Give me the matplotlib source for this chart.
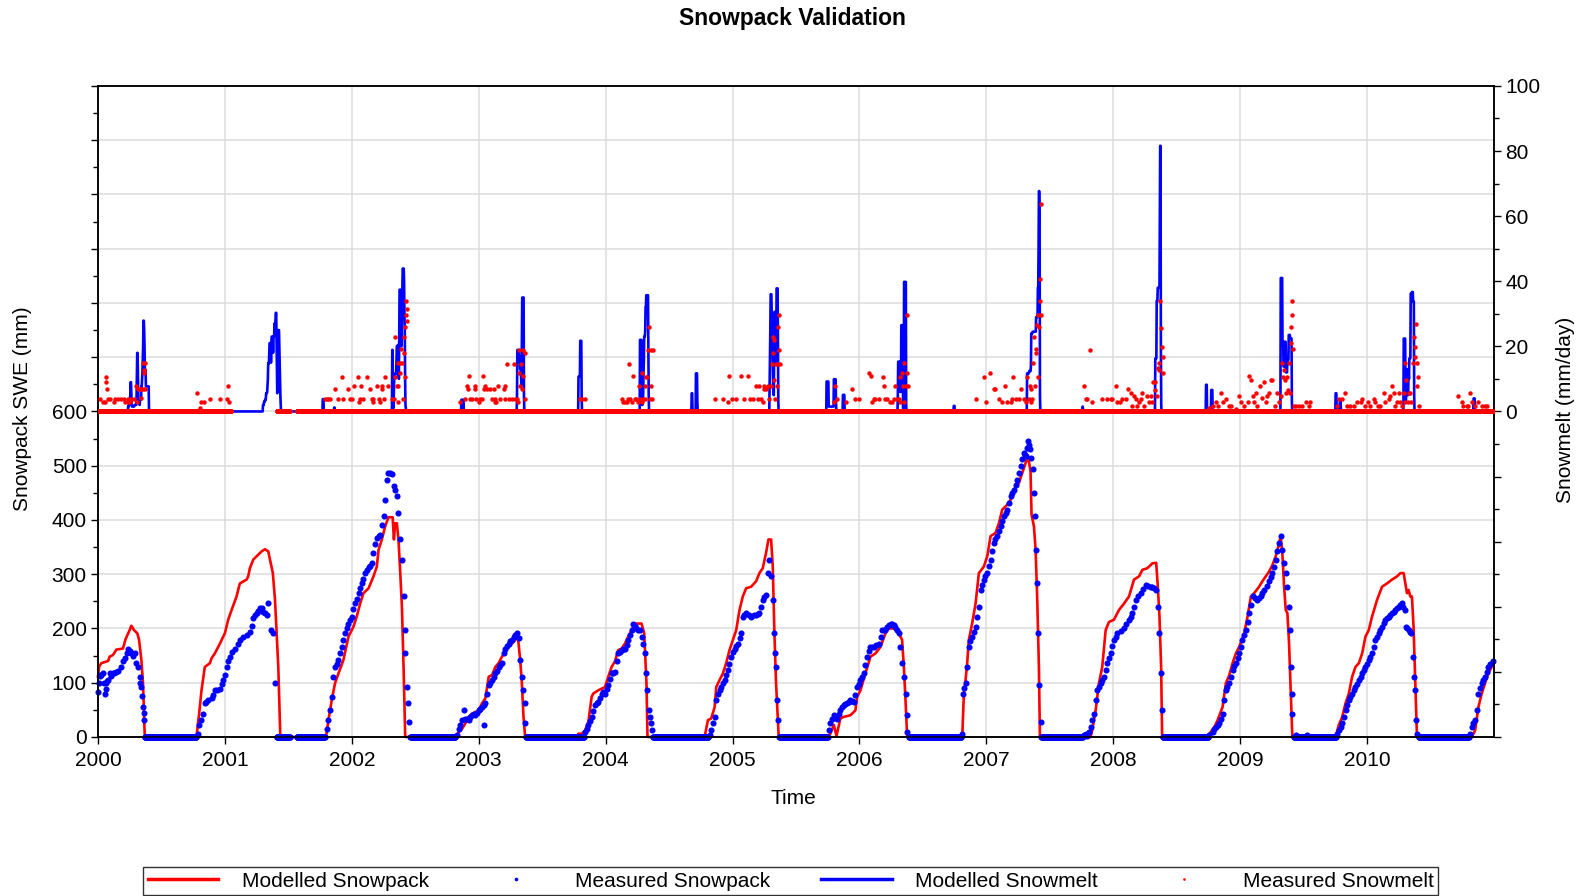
"""
Snowpack validation chart: modelled vs measured SWE (left axis)
and modelled vs measured daily snowmelt (right axis).
"""
import numpy as np
import matplotlib
matplotlib.use("Agg")
import matplotlib.pyplot as plt
from matplotlib.ticker import MultipleLocator, FuncFormatter

plt.rcParams["font.family"] = ["Liberation Sans", "DejaVu Sans"]

# ---------------------------------------------------------------------------
# Data (decimal years)
# ---------------------------------------------------------------------------
years = list(range(2000, 2011))

# Modelled snowpack SWE (mm)
swe_model = [
    (2000.000, 111), (2000.010, 130), (2000.026, 136), (2000.080, 140), (2000.092, 148),
    (2000.118, 151), (2000.145, 161), (2000.197, 163), (2000.216, 179), (2000.232, 188),
    (2000.250, 197), (2000.263, 205), (2000.284, 197), (2000.310, 191), (2000.324, 179),
    (2000.342, 142), (2000.355, 99), (2000.368, 6), (2000.374, 0),
    (2000.776, 0), (2000.800, 49), (2000.816, 86), (2000.842, 129), (2000.882, 136),
    (2000.895, 145), (2000.921, 154), (2000.961, 172), (2000.987, 185), (2001.000, 191),
    (2001.026, 216), (2001.053, 234), (2001.092, 259), (2001.118, 283), (2001.171, 290),
    (2001.184, 296), (2001.197, 311), (2001.224, 327), (2001.250, 333), (2001.289, 342),
    (2001.316, 346), (2001.342, 342), (2001.378, 302), (2001.395, 253), (2001.421, 129),
    (2001.437, 0),
    (2001.797, 0), (2001.816, 31), (2001.842, 68), (2001.868, 99), (2001.895, 117),
    (2001.934, 142), (2001.974, 185), (2002.013, 203), (2002.039, 222), (2002.066, 246),
    (2002.092, 265), (2002.132, 274), (2002.171, 296), (2002.197, 314), (2002.211, 345),
    (2002.237, 364), (2002.263, 388), (2002.289, 405), (2002.322, 405), (2002.332, 364),
    (2002.342, 394), (2002.355, 394), (2002.368, 364), (2002.382, 302), (2002.395, 240),
    (2002.408, 129), (2002.421, 0),
    (2002.817, 0), (2002.843, 9), (2002.869, 15), (2002.895, 25), (2002.921, 37),
    (2002.948, 43), (2003.000, 49), (2003.026, 62), (2003.052, 71), (2003.079, 111),
    (2003.105, 114), (2003.131, 129), (2003.157, 136), (2003.183, 148), (2003.209, 157),
    (2003.236, 169), (2003.262, 172), (2003.288, 179), (2003.309, 184), (2003.327, 142),
    (2003.340, 99), (2003.353, 37), (2003.366, 0),
    (2003.772, 0), (2003.785, 6), (2003.812, 6), (2003.838, 12), (2003.864, 28),
    (2003.890, 74), (2003.903, 80), (2003.942, 86), (2003.995, 92), (2004.021, 111),
    (2004.047, 129), (2004.073, 139), (2004.099, 160), (2004.126, 163), (2004.152, 172),
    (2004.178, 185), (2004.204, 197), (2004.230, 209), (2004.283, 209), (2004.304, 191),
    (2004.322, 99), (2004.330, 0),
    (2004.690, 0), (2004.700, 3), (2004.730, 3), (2004.740, 0),
    (2004.780, 0), (2004.806, 31), (2004.832, 34), (2004.859, 55), (2004.872, 92),
    (2004.898, 105), (2004.924, 117), (2004.950, 136), (2004.976, 160), (2005.003, 179),
    (2005.029, 197), (2005.055, 234), (2005.081, 259), (2005.107, 274), (2005.147, 277),
    (2005.186, 287), (2005.212, 302), (2005.238, 311), (2005.264, 339), (2005.283, 364),
    (2005.304, 364), (2005.317, 314), (2005.330, 191), (2005.343, 99), (2005.364, 0),
    (2005.745, 0), (2005.771, 6), (2005.798, 22), (2005.819, 2), (2005.850, 34),
    (2005.876, 37), (2005.929, 40), (2005.968, 49), (2005.982, 74), (2006.008, 86),
    (2006.047, 117), (2006.087, 148), (2006.126, 154), (2006.166, 166), (2006.205, 191),
    (2006.231, 200), (2006.271, 200), (2006.310, 191), (2006.336, 179), (2006.350, 129),
    (2006.363, 68), (2006.376, 0),
    (2006.810, 0), (2006.823, 80), (2006.836, 105), (2006.849, 136), (2006.862, 179),
    (2006.888, 209), (2006.915, 246), (2006.941, 302), (2006.980, 314), (2007.007, 333),
    (2007.033, 370), (2007.072, 376), (2007.099, 394), (2007.125, 419), (2007.164, 428),
    (2007.191, 437), (2007.217, 456), (2007.256, 468), (2007.296, 496), (2007.322, 514),
    (2007.335, 508), (2007.348, 490), (2007.356, 410), (2007.375, 388), (2007.388, 345),
    (2007.401, 253), (2007.414, 129), (2007.422, 0),
    (2007.821, 0), (2007.834, 12), (2007.861, 49), (2007.887, 99), (2007.913, 129),
    (2007.940, 197), (2007.966, 212), (2008.005, 216), (2008.045, 234), (2008.085, 246),
    (2008.124, 259), (2008.163, 290), (2008.203, 296), (2008.229, 308), (2008.268, 311),
    (2008.308, 320), (2008.338, 321), (2008.351, 277), (2008.364, 222), (2008.377, 129),
    (2008.385, 0),
    (2008.730, 0), (2008.757, 6), (2008.796, 18), (2008.822, 31), (2008.861, 55),
    (2008.887, 99), (2008.914, 114), (2008.940, 136), (2008.966, 154), (2008.992, 166),
    (2009.031, 191), (2009.058, 222), (2009.084, 259), (2009.110, 265), (2009.149, 277),
    (2009.175, 287), (2009.202, 296), (2009.228, 305), (2009.254, 317), (2009.280, 333),
    (2009.301, 351), (2009.319, 370), (2009.332, 339), (2009.346, 277), (2009.359, 234),
    (2009.372, 228), (2009.385, 172), (2009.398, 86), (2009.411, 0),
    (2009.751, 0), (2009.777, 22), (2009.804, 37), (2009.830, 62), (2009.856, 80),
    (2009.882, 111), (2009.908, 129), (2009.935, 136), (2009.961, 154), (2009.987, 185),
    (2010.013, 197), (2010.039, 222), (2010.079, 253), (2010.118, 277), (2010.157, 283),
    (2010.196, 290), (2010.236, 296), (2010.262, 302), (2010.288, 302), (2010.301, 283),
    (2010.314, 265), (2010.327, 271), (2010.340, 259), (2010.353, 259), (2010.366, 203),
    (2010.380, 99), (2010.393, 0),
    (2010.825, 0), (2010.851, 12), (2010.877, 55), (2010.903, 80), (2010.929, 99),
    (2010.955, 117), (2010.995, 135),
]

# Measured snowpack SWE (mm), snow season readings
swe_measured = [
    (2000.000, 83), (2000.005, 100), (2000.013, 114), (2000.020, 112), (2000.026, 114),
    (2000.039, 117), (2000.045, 100), (2000.053, 80), (2000.060, 88), (2000.066, 99),
    (2000.072, 104), (2000.079, 105), (2000.092, 117), (2000.100, 112), (2000.118, 117),
    (2000.130, 118), (2000.145, 120), (2000.160, 121), (2000.184, 129), (2000.200, 140),
    (2000.211, 145), (2000.225, 155), (2000.237, 163), (2000.250, 158), (2000.263, 154),
    (2000.276, 150), (2000.289, 154), (2000.303, 136), (2000.316, 129), (2000.329, 111),
    (2000.335, 100), (2000.342, 92), (2000.350, 75), (2000.355, 55), (2000.360, 45),
    (2000.363, 31),
    (2000.789, 6), (2000.800, 22), (2000.813, 31), (2000.826, 43), (2000.842, 62),
    (2000.855, 65), (2000.868, 68), (2000.895, 71), (2000.908, 78), (2000.921, 86),
    (2000.940, 87), (2000.961, 89), (2000.975, 97), (2000.987, 105), (2001.000, 115),
    (2001.013, 129), (2001.026, 140), (2001.039, 148), (2001.060, 157), (2001.079, 163),
    (2001.100, 171), (2001.118, 179), (2001.145, 184), (2001.171, 188), (2001.197, 194),
    (2001.210, 205), (2001.224, 219), (2001.237, 224), (2001.250, 228), (2001.263, 233),
    (2001.276, 237), (2001.290, 238), (2001.303, 231), (2001.316, 228), (2001.329, 225),
    (2001.342, 246), (2001.361, 198), (2001.382, 191), (2001.395, 100),
    (2001.803, 15), (2001.816, 31), (2001.829, 49), (2001.842, 74), (2001.855, 111),
    (2001.868, 129), (2001.882, 135), (2001.895, 142), (2001.908, 155), (2001.921, 166),
    (2001.934, 178), (2001.947, 191), (2001.960, 200), (2001.974, 209), (2001.987, 215),
    (2002.000, 222), (2002.013, 235), (2002.026, 246), (2002.040, 255), (2002.053, 265),
    (2002.066, 274), (2002.079, 283), (2002.092, 292), (2002.105, 302), (2002.118, 308),
    (2002.132, 314), (2002.145, 316), (2002.158, 320), (2002.171, 340), (2002.184, 355),
    (2002.197, 367), (2002.211, 370), (2002.224, 373), (2002.237, 390), (2002.250, 407),
    (2002.263, 437), (2002.276, 474), (2002.289, 487), (2002.303, 486), (2002.316, 484),
    (2002.329, 462), (2002.342, 456), (2002.355, 444), (2002.368, 413), (2002.382, 364),
    (2002.395, 327), (2002.408, 259), (2002.416, 197), (2002.421, 154), (2002.434, 92),
    (2002.440, 62), (2002.447, 28),
    (2002.830, 3), (2002.843, 15), (2002.856, 22), (2002.869, 31), (2002.882, 49),
    (2002.895, 34), (2002.908, 33), (2002.921, 31), (2002.934, 36), (2002.948, 40),
    (2002.961, 42), (2002.974, 40), (2002.987, 45), (2003.000, 49), (2003.013, 52),
    (2003.026, 55), (2003.039, 22), (2003.045, 58), (2003.052, 62), (2003.065, 80),
    (2003.079, 95), (2003.092, 100), (2003.105, 105), (2003.118, 110), (2003.131, 117),
    (2003.144, 122), (2003.157, 129), (2003.170, 132), (2003.183, 136), (2003.196, 154),
    (2003.209, 163), (2003.222, 168), (2003.236, 172), (2003.249, 176), (2003.262, 179),
    (2003.275, 184), (2003.288, 188), (2003.301, 191), (2003.319, 182), (2003.327, 142),
    (2003.340, 111), (2003.353, 86), (2003.361, 62), (2003.366, 25),
    (2003.838, 9), (2003.851, 15), (2003.864, 22), (2003.877, 30), (2003.890, 37),
    (2003.903, 48), (2003.916, 59), (2003.929, 62), (2003.942, 65), (2003.955, 72),
    (2003.969, 80), (2003.982, 82), (2003.995, 80), (2004.008, 88), (2004.021, 95),
    (2004.034, 106), (2004.047, 117), (2004.060, 118), (2004.073, 120), (2004.086, 140),
    (2004.099, 154), (2004.112, 157), (2004.126, 160), (2004.139, 162), (2004.152, 163),
    (2004.165, 170), (2004.178, 179), (2004.191, 188), (2004.204, 197), (2004.217, 209),
    (2004.230, 204), (2004.243, 200), (2004.257, 198), (2004.270, 197), (2004.283, 185),
    (2004.296, 172), (2004.309, 154), (2004.322, 117), (2004.330, 86), (2004.340, 50),
    (2004.350, 37), (2004.361, 25), (2004.368, 12),
    (2004.819, 3), (2004.832, 12), (2004.845, 25), (2004.859, 37), (2004.872, 68),
    (2004.885, 80), (2004.898, 86), (2004.911, 92), (2004.924, 99), (2004.937, 105),
    (2004.950, 115), (2004.963, 123), (2004.976, 135), (2004.990, 148), (2005.003, 156),
    (2005.016, 163), (2005.029, 168), (2005.042, 172), (2005.055, 182), (2005.068, 191),
    (2005.081, 222), (2005.094, 225), (2005.107, 228), (2005.127, 224), (2005.147, 222),
    (2005.166, 224), (2005.186, 225), (2005.199, 227), (2005.212, 228), (2005.225, 240),
    (2005.238, 253), (2005.251, 258), (2005.264, 262), (2005.277, 302), (2005.291, 327),
    (2005.304, 296), (2005.317, 253), (2005.325, 191), (2005.335, 154), (2005.343, 129),
    (2005.351, 68), (2005.361, 31),
    (2005.758, 12), (2005.771, 25), (2005.785, 33), (2005.798, 40), (2005.811, 36),
    (2005.824, 34), (2005.837, 42), (2005.850, 49), (2005.863, 55), (2005.876, 59),
    (2005.889, 60), (2005.903, 62), (2005.916, 65), (2005.929, 68), (2005.942, 66),
    (2005.955, 65), (2005.968, 78), (2005.982, 92), (2005.995, 98), (2006.008, 105),
    (2006.021, 111), (2006.034, 117), (2006.047, 132), (2006.060, 148), (2006.073, 158),
    (2006.087, 166), (2006.100, 166), (2006.113, 166), (2006.133, 169), (2006.152, 172),
    (2006.166, 185), (2006.179, 197), (2006.192, 197), (2006.205, 197), (2006.218, 202),
    (2006.231, 206), (2006.245, 208), (2006.258, 209), (2006.271, 206), (2006.284, 203),
    (2006.297, 197), (2006.310, 191), (2006.323, 166), (2006.336, 136), (2006.350, 111),
    (2006.363, 80), (2006.371, 40), (2006.376, 9),
    (2006.810, 6), (2006.818, 80), (2006.827, 90), (2006.836, 99), (2006.849, 129),
    (2006.862, 166), (2006.875, 176), (2006.888, 185), (2006.901, 194), (2006.915, 203),
    (2006.928, 222), (2006.941, 240), (2006.954, 271), (2006.967, 280), (2006.980, 290),
    (2006.993, 296), (2007.007, 302), (2007.020, 315), (2007.033, 327), (2007.046, 342),
    (2007.059, 357), (2007.072, 364), (2007.085, 370), (2007.099, 379), (2007.112, 388),
    (2007.125, 398), (2007.138, 407), (2007.151, 413), (2007.164, 419), (2007.177, 432),
    (2007.191, 444), (2007.204, 450), (2007.217, 456), (2007.230, 465), (2007.243, 474),
    (2007.256, 486), (2007.270, 499), (2007.283, 512), (2007.296, 524), (2007.305, 520),
    (2007.314, 518), (2007.322, 532), (2007.330, 545), (2007.337, 538), (2007.343, 530),
    (2007.353, 514), (2007.364, 493), (2007.375, 450), (2007.382, 407), (2007.393, 345),
    (2007.401, 283), (2007.409, 191), (2007.417, 95), (2007.427, 28),
    (2007.769, 4), (2007.782, 6), (2007.795, 2), (2007.808, 10), (2007.821, 18),
    (2007.834, 31), (2007.848, 43), (2007.861, 68), (2007.874, 86), (2007.887, 93),
    (2007.900, 99), (2007.913, 105), (2007.927, 111), (2007.940, 124), (2007.953, 136),
    (2007.966, 145), (2007.979, 154), (2007.992, 167), (2008.005, 179), (2008.018, 185),
    (2008.032, 191), (2008.058, 196), (2008.085, 200), (2008.104, 208), (2008.124, 216),
    (2008.137, 222), (2008.150, 228), (2008.163, 240), (2008.176, 253), (2008.196, 259),
    (2008.216, 265), (2008.236, 273), (2008.255, 280), (2008.275, 279), (2008.294, 277),
    (2008.307, 276), (2008.320, 274), (2008.338, 270), (2008.351, 240), (2008.364, 191),
    (2008.377, 117), (2008.382, 49),
    (2008.757, 3), (2008.783, 9), (2008.796, 14), (2008.809, 18), (2008.822, 22),
    (2008.835, 25), (2008.848, 34), (2008.861, 43), (2008.874, 68), (2008.887, 86),
    (2008.900, 93), (2008.914, 99), (2008.927, 111), (2008.940, 123), (2008.953, 130),
    (2008.966, 136), (2008.979, 145), (2008.992, 154), (2009.005, 166), (2009.018, 179),
    (2009.031, 188), (2009.045, 197), (2009.058, 212), (2009.071, 228), (2009.084, 244),
    (2009.097, 259), (2009.117, 256), (2009.136, 253), (2009.149, 256), (2009.162, 259),
    (2009.175, 265), (2009.188, 271), (2009.208, 279), (2009.228, 287), (2009.241, 294),
    (2009.254, 302), (2009.267, 314), (2009.280, 327), (2009.293, 342), (2009.306, 357),
    (2009.319, 370), (2009.332, 345), (2009.346, 320), (2009.359, 302), (2009.372, 277),
    (2009.385, 240), (2009.393, 197), (2009.401, 129), (2009.406, 80), (2009.411, 43),
    (2009.437, 3), (2009.529, 3),
    (2009.764, 5), (2009.777, 12), (2009.791, 18), (2009.804, 25), (2009.817, 37),
    (2009.830, 49), (2009.843, 58), (2009.856, 68), (2009.869, 74), (2009.882, 80),
    (2009.895, 86), (2009.908, 92), (2009.921, 98), (2009.935, 105), (2009.948, 111),
    (2009.961, 117), (2009.974, 123), (2009.987, 129), (2010.000, 135), (2010.013, 142),
    (2010.026, 148), (2010.039, 154), (2010.052, 166), (2010.065, 179), (2010.079, 185),
    (2010.092, 191), (2010.105, 197), (2010.118, 203), (2010.131, 210), (2010.144, 216),
    (2010.157, 219), (2010.170, 222), (2010.183, 225), (2010.196, 228), (2010.210, 231),
    (2010.223, 234), (2010.236, 237), (2010.249, 240), (2010.262, 243), (2010.275, 246),
    (2010.285, 240), (2010.296, 234), (2010.306, 203), (2010.317, 200), (2010.327, 197),
    (2010.338, 194), (2010.348, 191), (2010.359, 148), (2010.367, 111), (2010.374, 86),
    (2010.385, 31), (2010.393, 6),
    (2010.812, 5), (2010.825, 18), (2010.838, 25), (2010.851, 31), (2010.864, 49),
    (2010.877, 80), (2010.890, 90), (2010.903, 99), (2010.916, 105), (2010.929, 111),
    (2010.942, 120), (2010.955, 129), (2010.970, 134), (2010.990, 140),
]

# Periods where the measured snowpack reads zero
swe_measured_zero = [
    (2000.368, 2000.776), (2001.408, 2001.513), (2001.566, 2001.789),
    (2002.460, 2002.817), (2003.372, 2003.830), (2004.374, 2004.812),
    (2005.369, 2005.752), (2006.389, 2006.804), (2007.432, 2007.760),
    (2008.390, 2008.750), (2009.424, 2009.758), (2010.406, 2010.805),
]

# Modelled snowmelt (mm/day): runs of consecutive daily values, zero elsewhere
melt_model_runs = [
    (2000.237, [1.5, 1.5, 2, 2, 3, 3, 5, 9, 9, 6, 2, 1.5, 1.5, 1.5, 1.5, 1.5, 1.5, 1.5,
                2, 2, 2, 2, 2, 2, 3.6, 10, 18, 18, 12, 3.6, 3.6, 3.6, 3.6, 2, 3.6, 3.6,
                3.6, 3.6, 7.7, 7.7, 10, 12, 15.8, 20, 27.9, 27.9, 25, 20, 12.8, 12.8,
                12.8, 7.7, 7.7, 7.7, 7.7, 7.7, 7.7, 7.7, 7.7, 7.7]),
    (2001.300, [2, 2, 2, 3, 3, 3, 3.6, 3.6, 3.6, 5.6, 5.6, 5.6, 6, 8, 10, 14.8, 14.8,
                14.8, 18, 21, 21, 21, 21, 15, 21, 23, 23, 23, 23, 18, 23, 23, 23, 27, 25,
                27, 28, 30.3, 30.3, 22, 12, 5.6, 8, 15, 25, 25, 25, 20, 14, 10, 5, 2]),
    (2001.771, [3.8, 3.8, 3.8]),
    (2001.863, [1.2, 1.2]),
    (2002.318, [18.9, 18.9, 5, 1, 3, 8, 11, 11, 11, 11.7, 11.7, 11.7, 15, 20, 20, 20,
                20.4, 20.4, 14, 10, 25, 37.4, 37.4, 37.4, 37.4, 30, 20, 25, 30, 38, 43.9,
                43.9, 43.9, 43.9, 40, 30, 25, 10, 2, 1]),
    (2002.864, [3.6, 3.6, 3.6, 3.6, 3.6, 3.6, 3.6]),
    (2003.301, [5, 18.9, 18.9, 18.9, 18.9, 18.9, 16.8, 16.8, 16.8, 13, 13, 13, 10, 8,
                20, 35, 35, 35, 35, 35, 5]),
    (2003.786, [10.7, 10.7, 10.7, 10.7, 10.7, 21.7, 21.7, 21.7, 21.7, 5]),
    (2004.270, [22, 22, 22, 22, 22, 3, 2, 2, 3, 5, 12, 15, 23, 23, 23, 25, 32, 32,
                35.7, 35.7, 35.7, 35.7, 35.7, 35.7, 20, 5]),
    (2004.676, [1, 5.6, 5.6, 1]),
    (2004.712, [11.7, 11.7, 11.7, 11.7, 3]),
    (2005.291, [8, 15.8, 25, 36, 36, 36, 30, 30, 30, 15, 8, 6, 5, 20, 30.6, 30.6, 30.6,
                30.6, 25, 15, 37.8, 37.8, 37.8, 37.8, 20, 3]),
    (2005.740, [9.2, 9.2, 9.2, 9.2, 9.2, 9.2, 1.5, 1.5, 1.5, 1.5, 1.5, 1.5, 1.5, 1.5,
                1.5, 1.5, 1.5, 1.5, 1.5, 1.5, 1.5, 9.9, 9.9, 9.9, 9.9, 9.9, 9.9, 3]),
    (2005.871, [5.1, 5.1, 5.1, 5.1, 5.1]),
    (2006.302, [5, 15.3, 15.3, 15.3, 15.3, 15.3, 15.3, 6, 6, 6, 26.5, 26.5, 26.5, 26.5,
                26.5, 1, 1, 1, 39.8, 39.8, 39.8, 39.8, 39.8, 39.8, 2]),
    (2006.744, [1.7, 1.7, 1.7]),
    (2007.322, [11.7, 11.7, 11.7, 11.7, 11.7, 11.7, 12.4, 12.4, 12.4, 12.4, 12.4, 14,
                24, 24, 24, 24, 24.5, 24.5, 24.5, 24.5, 24.5, 24.5, 24.5, 24.5, 24.5,
                24.5, 29, 29, 29, 29, 29, 38, 38, 50, 67.7, 67.7, 60, 5]),
    (2007.756, [0.7, 1.5, 0.7]),
    (2008.332, [16.3, 16.3, 16.3, 16.3, 34, 34, 34, 38, 38, 38, 38, 38, 38, 60, 81.6,
                81.6, 20, 2]),
    (2008.730, [8.2, 8.2, 8.2]),
    (2008.772, [6.6, 6.6, 6.6, 6.6]),
    (2009.319, [41, 41, 41, 41, 41, 21.4, 21.4, 21.4, 13.8, 13.8, 13.8, 21.4, 21.4,
                21.4, 21.4, 12, 12, 12, 12, 15.8, 15.8, 15.8, 15.8, 23.5, 23.5, 23.5,
                23.5, 22.4, 22.4, 22.4, 22.4, 22.4, 3]),
    (2009.752, [5.6, 5.6, 5.6, 1, 1, 1, 1, 1, 1, 1, 1, 1, 3, 3, 3, 1]),
    (2010.288, [22.4, 22.4, 22.4, 22.4, 22.4, 5, 3, 5, 10, 12, 13, 10, 5, 8, 12, 10,
                16.3, 16.3, 16.3, 16.3, 36.2, 36.2, 36.2, 36.2, 36.7, 36.7, 36.7, 33.7,
                33.7, 33.7, 5]),
    (2010.838, [4, 4, 4, 4]),
]

# Measured snowmelt (mm/day), non-zero readings
melt_measured = [
    (2000.013, 3.9), (2000.039, 2.8), (2000.053, 2.8), (2000.061, 10.7), (2000.061, 8.9),
    (2000.071, 6.8), (2000.079, 3.9), (2000.092, 3.9), (2000.126, 2.8), (2000.132, 3.9),
    (2000.158, 3.9), (2000.184, 3.9), (2000.205, 3.9), (2000.216, 2.8), (2000.237, 2.8),
    (2000.237, 3.9), (2000.250, 2.8), (2000.263, 3.9), (2000.284, 3.9), (2000.303, 7.9),
    (2000.311, 2.8), (2000.316, 6.8), (2000.329, 6.8), (2000.342, 4.0), (2000.342, 6.8),
    (2000.355, 6.8), (2000.355, 14.8), (2000.363, 11.7), (2000.363, 12.8), (2000.368, 14.8),
    (2000.368, 6.8),
    (2000.784, 5.8), (2000.803, 1.0), (2000.811, 2.8), (2000.837, 2.8), (2000.882, 3.9),
    (2000.961, 3.9), (2001.013, 3.9), (2001.026, 7.9), (2001.034, 2.8),
    (2001.789, 3.9), (2001.803, 3.9), (2001.816, 3.9), (2001.829, 3.9), (2001.868, 6.8),
    (2001.895, 3.9), (2001.921, 10.7), (2001.934, 3.9), (2001.974, 6.8), (2001.987, 3.9),
    (2002.000, 3.9), (2002.021, 7.9), (2002.047, 10.7), (2002.053, 2.8), (2002.066, 3.9),
    (2002.074, 7.9), (2002.092, 3.9), (2002.118, 10.7), (2002.145, 6.8), (2002.158, 3.9),
    (2002.166, 2.8), (2002.171, 3.9), (2002.197, 7.9), (2002.211, 3.9), (2002.224, 2.8),
    (2002.237, 6.8), (2002.242, 7.9), (2002.250, 3.9), (2002.258, 10.7), (2002.289, 7.9),
    (2002.316, 3.9), (2002.329, 3.9), (2002.337, 22.8), (2002.337, 10.7), (2002.355, 7.9),
    (2002.363, 2.8), (2002.368, 14.8), (2002.368, 7.9), (2002.382, 14.8), (2002.382, 11.7),
    (2002.389, 19.1), (2002.395, 14.8), (2002.400, 3.9), (2002.408, 22.8), (2002.408, 17.9),
    (2002.416, 25.8), (2002.421, 10.7), (2002.426, 29.6), (2002.429, 34.0), (2002.434, 31.6),
    (2002.439, 27.9),
    (2002.856, 2.8), (2002.895, 3.9), (2002.908, 7.7), (2002.916, 6.8), (2002.921, 10.9),
    (2002.935, 3.9), (2002.948, 3.9), (2002.969, 6.8), (2002.974, 7.9), (2002.979, 3.9),
    (2003.000, 2.8), (2003.013, 3.9), (2003.026, 3.9), (2003.034, 10.9), (2003.039, 6.8),
    (2003.047, 7.9), (2003.065, 6.8), (2003.092, 6.8), (2003.105, 3.9), (2003.118, 6.8),
    (2003.126, 2.8), (2003.131, 3.9), (2003.136, 2.8), (2003.152, 7.9), (2003.170, 3.9),
    (2003.196, 6.8), (2003.204, 7.9), (2003.209, 3.9), (2003.223, 14.6), (2003.236, 3.9),
    (2003.262, 3.9), (2003.275, 14.6), (2003.288, 3.9), (2003.301, 3.9), (2003.309, 2.8),
    (2003.314, 18.9), (2003.319, 11.7), (2003.327, 7.9), (2003.335, 14.6), (2003.340, 6.8),
    (2003.346, 10.9), (2003.353, 18.9), (2003.361, 17.9), (2003.366, 3.9),
    (2003.798, 3.9), (2003.812, 3.9), (2003.838, 3.9),
    (2004.126, 3.9), (2004.139, 2.8), (2004.152, 2.8), (2004.165, 2.8), (2004.173, 3.9),
    (2004.186, 14.6), (2004.191, 3.9), (2004.204, 2.8), (2004.217, 10.9), (2004.230, 3.9),
    (2004.243, 3.9), (2004.257, 2.8), (2004.262, 7.9), (2004.270, 3.9), (2004.283, 11.7),
    (2004.288, 2.8), (2004.296, 3.9), (2004.309, 3.9), (2004.314, 7.9), (2004.322, 10.7),
    (2004.330, 10.7), (2004.335, 18.9), (2004.340, 25.8), (2004.348, 3.9), (2004.356, 7.9),
    (2004.361, 18.9), (2004.366, 3.9), (2004.374, 18.9),
    (2004.859, 3.9), (2004.924, 3.9), (2004.963, 2.8), (2004.976, 10.9), (2004.995, 3.9),
    (2005.029, 3.9), (2005.068, 10.9), (2005.094, 3.9), (2005.120, 10.9), (2005.134, 3.9),
    (2005.160, 3.9), (2005.186, 7.9), (2005.199, 3.9), (2005.212, 7.9), (2005.225, 3.9),
    (2005.238, 2.8), (2005.246, 7.9), (2005.251, 6.8), (2005.264, 6.8), (2005.277, 7.9),
    (2005.291, 3.9), (2005.304, 7.9), (2005.309, 14.6), (2005.317, 23.0), (2005.317, 17.9),
    (2005.325, 21.9), (2005.330, 9.7), (2005.335, 3.9), (2005.343, 14.6), (2005.348, 7.9),
    (2005.356, 14.6), (2005.361, 25.8), (2005.364, 29.6), (2005.369, 18.9), (2005.377, 14.6),
    (2005.798, 2.8), (2005.811, 7.9), (2005.824, 3.9), (2005.895, 2.8), (2005.942, 6.8),
    (2005.968, 3.9), (2005.995, 3.9), (2006.074, 11.7), (2006.092, 10.9), (2006.100, 2.8),
    (2006.113, 3.9), (2006.126, 3.9), (2006.152, 3.9), (2006.187, 10.7), (2006.192, 7.9),
    (2006.205, 3.9), (2006.218, 3.9), (2006.244, 2.8), (2006.258, 2.8), (2006.271, 3.9),
    (2006.284, 7.9), (2006.297, 3.9), (2006.310, 3.9), (2006.318, 2.8), (2006.323, 10.7),
    (2006.336, 11.7), (2006.344, 7.9), (2006.350, 14.8), (2006.355, 2.8), (2006.363, 7.9),
    (2006.371, 29.6), (2006.376, 11.7), (2006.384, 7.9),
    (2006.915, 3.9), (2006.980, 10.7), (2007.001, 2.8), (2007.028, 11.7), (2007.059, 6.8),
    (2007.072, 6.8), (2007.099, 3.9), (2007.125, 2.8), (2007.143, 7.9), (2007.164, 2.8),
    (2007.191, 2.8), (2007.204, 3.9), (2007.212, 10.7), (2007.230, 3.9), (2007.256, 3.9),
    (2007.275, 6.8), (2007.296, 3.9), (2007.309, 2.8), (2007.322, 10.7), (2007.335, 3.9),
    (2007.343, 7.9), (2007.348, 2.8), (2007.353, 6.8), (2007.361, 3.9), (2007.369, 14.8),
    (2007.375, 23.0), (2007.380, 7.9), (2007.388, 19.1), (2007.393, 17.9), (2007.401, 26.5),
    (2007.406, 29.6), (2007.409, 10.7), (2007.414, 25.8), (2007.419, 34.0), (2007.422, 40.6),
    (2007.427, 29.6), (2007.432, 63.6),
    (2007.769, 7.9), (2007.782, 3.9), (2007.795, 3.9), (2007.816, 18.9), (2007.834, 2.8),
    (2007.913, 3.9), (2007.953, 3.9), (2007.979, 3.9), (2007.992, 3.9), (2008.018, 7.9),
    (2008.032, 2.8), (2008.053, 2.8), (2008.071, 3.9), (2008.097, 3.9), (2008.116, 6.8),
    (2008.137, 5.8), (2008.150, 1.7), (2008.163, 4.8), (2008.176, 3.9), (2008.189, 1.7),
    (2008.203, 2.8), (2008.216, 3.9), (2008.229, 5.8), (2008.242, 1.7), (2008.268, 4.8),
    (2008.281, 2.8), (2008.294, 4.8), (2008.308, 2.8), (2008.315, 8.9), (2008.325, 8.9),
    (2008.332, 6.6), (2008.343, 4.8), (2008.351, 13.3), (2008.359, 12.8), (2008.364, 15.0),
    (2008.369, 34.0), (2008.377, 25.5), (2008.382, 19.9), (2008.390, 16.8), (2008.395, 11.7),
    (2008.751, 1.0), (2008.783, 1.7), (2008.809, 2.8), (2008.822, 1.7), (2008.848, 5.8),
    (2008.861, 2.8), (2008.887, 3.9), (2008.914, 1.7), (2008.927, 1.7), (2008.966, 0.7),
    (2008.992, 4.8), (2009.005, 2.8), (2009.031, 1.7), (2009.058, 2.8), (2009.071, 10.9),
    (2009.084, 9.7), (2009.097, 4.8), (2009.110, 2.8), (2009.123, 5.8), (2009.136, 1.7),
    (2009.154, 7.9), (2009.175, 4.1), (2009.188, 8.9), (2009.202, 2.8), (2009.215, 4.8),
    (2009.228, 5.8), (2009.241, 9.7), (2009.254, 9.7), (2009.275, 1.7), (2009.293, 5.8),
    (2009.306, 2.8), (2009.319, 4.8), (2009.332, 14.8), (2009.338, 10.7), (2009.346, 12.8),
    (2009.353, 9.7), (2009.359, 5.6), (2009.372, 10.7), (2009.380, 6.6), (2009.385, 14.8),
    (2009.393, 5.6), (2009.398, 20.9), (2009.403, 25.8), (2009.406, 29.6), (2009.411, 34.0),
    (2009.419, 19.1), (2009.424, 1.7), (2009.437, 1.7), (2009.463, 1.7), (2009.490, 1.7),
    (2009.516, 2.8), (2009.542, 1.7), (2009.550, 2.8),
    (2009.764, 1.7), (2009.777, 3.9), (2009.804, 3.9), (2009.825, 5.6), (2009.843, 1.7),
    (2009.869, 1.7), (2009.895, 1.7), (2009.921, 2.8), (2009.948, 2.8), (2009.961, 3.9),
    (2009.987, 1.7), (2010.008, 2.8), (2010.026, 1.7), (2010.052, 3.9), (2010.065, 2.8),
    (2010.086, 1.7), (2010.105, 1.7), (2010.131, 5.6), (2010.144, 2.8), (2010.170, 3.9),
    (2010.183, 4.8), (2010.196, 7.9), (2010.209, 5.6), (2010.223, 1.7), (2010.236, 2.8),
    (2010.249, 5.6), (2010.262, 2.8), (2010.275, 1.7), (2010.288, 5.6), (2010.296, 2.8),
    (2010.301, 14.8), (2010.309, 9.7), (2010.322, 2.8), (2010.327, 5.6), (2010.340, 5.6),
    (2010.348, 2.8), (2010.359, 14.8), (2010.366, 23.0), (2010.374, 16.8), (2010.380, 19.9),
    (2010.385, 27.0), (2010.390, 14.8), (2010.395, 7.9), (2010.400, 10.7), (2010.406, 1.7),
    (2010.720, 4.8), (2010.746, 2.8), (2010.759, 1.7), (2010.785, 1.7), (2010.798, 1.7),
    (2010.812, 5.8), (2010.825, 2.8), (2010.851, 1.7), (2010.877, 2.8), (2010.903, 1.7),
    (2010.929, 1.7), (2010.942, 1.7),
]

# Periods covered by the snowmelt measurements (zero unless listed above)
melt_measured_spans = [(2000.000, 2001.053), (2001.408, 2001.513), (2001.566, 2011.000)]

# ---------------------------------------------------------------------------
# Layout constants
# ---------------------------------------------------------------------------
_RED = "#ff0000"
_BLUE = "#0000ff"
_GRID = "#dcdcdc"
_FS = 15
_DAY = 1.0 / 365.25


def _days(spans):
    """Daily sample positions inside each (start, end) period."""
    return np.concatenate([np.arange(a, b, _DAY) for a, b in spans])


fig = plt.figure(figsize=(15.85, 8.96), dpi=100)
ax = fig.add_axes([0.0618, 0.1775, 0.8808, 0.7266])
ax2 = ax.twinx()

# --- snowpack (left axis) ---------------------------------------------------
t_mod, v_mod = zip(*swe_model)
ax.plot(t_mod, v_mod, color=_RED, lw=1.9, zorder=2, clip_on=False,
        label="Modelled Snowpack")

t_obs, v_obs = zip(*swe_measured)
t_zero = _days(swe_measured_zero)
ax.plot(np.concatenate([t_obs, t_zero]),
        np.concatenate([v_obs, np.zeros_like(t_zero)]),
        ls="none", marker="o", ms=4.4, mew=0, color=_BLUE, zorder=3,
        clip_on=False, label="Measured Snowpack")

# --- snowmelt (right axis) --------------------------------------------------
n_days = int(round(11 * 365.25)) + 1
t_daily = 2000 + np.arange(n_days) * _DAY
melt_mod = np.zeros(n_days)
for start, vals in melt_model_runs:
    i0 = int(round((start - 2000) * 365.25))
    melt_mod[i0:i0 + len(vals)] = vals
ax2.plot(t_daily, melt_mod, color=_BLUE, lw=1.9, zorder=2, label="Modelled Snowmelt")

t_m, v_m = zip(*melt_measured)
t_m0 = _days(melt_measured_spans)
ax2.plot(np.concatenate([t_m0, t_m]),
         np.concatenate([np.zeros_like(t_m0), v_m]),
         ls="none", marker="o", ms=3.2, mew=0, color=_RED, zorder=3,
         label="Measured Snowmelt")

# --- axes styling -----------------------------------------------------------
ax.set_xlim(2000, 2011)
ax.set_ylim(0, 1200)
ax2.set_ylim(-100, 100)

ax.set_xticks(years)
ax.set_xticklabels([str(y) for y in years])
ax.yaxis.set_major_locator(MultipleLocator(100))
ax.yaxis.set_minor_locator(MultipleLocator(50))
ax.yaxis.set_major_formatter(FuncFormatter(lambda v, _: f"{v:.0f}" if v <= 600 else ""))
ax2.yaxis.set_major_locator(MultipleLocator(20))
ax2.yaxis.set_minor_locator(MultipleLocator(10))
ax2.yaxis.set_major_formatter(FuncFormatter(lambda v, _: f"{v:.0f}" if v >= 0 else ""))

for a in (ax, ax2):
    a.tick_params(which="major", direction="out", length=5, width=1.0,
                  labelsize=_FS, colors="black")
    a.tick_params(which="minor", direction="out", length=3.5, width=1.0)
    for s in a.spines.values():
        s.set_linewidth(1.1)
ax.tick_params(axis="x", pad=5)
ax.tick_params(axis="y", pad=3)
ax2.tick_params(axis="y", pad=3)

ax.grid(True, which="major", color=_GRID, lw=1.1, zorder=0)
ax.set_axisbelow(True)

fig.text(0.5, 0.979, "Snowpack Validation", ha="center", va="center",
         fontsize=16.5, fontweight="bold")
fig.text(0.0139, 0.544, "Snowpack SWE (mm)", rotation=90, ha="center",
         va="center", fontsize=_FS)
fig.text(0.988, 0.543, "Snowmelt (mm/day)", rotation=90, ha="center",
         va="center", fontsize=_FS)
fig.text(0.5006, 0.109, "Time", ha="center", va="center", fontsize=_FS)

handles = ax.get_lines()[:2] + ax2.get_lines()[:2]
leg = fig.legend(handles, [h.get_label() for h in handles], ncol=4,
                 loc="center", bbox_to_anchor=(0.499, 1 - 881 / 896),
                 fontsize=_FS, frameon=True, fancybox=False, borderpad=0.2,
                 handlelength=3.4, handletextpad=1.13, columnspacing=2.45,
                 markerscale=0.6, borderaxespad=0)
leg.get_frame().set_edgecolor("black")
leg.get_frame().set_linewidth(1.0)
for h in leg.legend_handles:
    if h.get_linestyle() != "None":
        h.set_linewidth(2.5)

fig.savefig("out.png", dpi=100)
